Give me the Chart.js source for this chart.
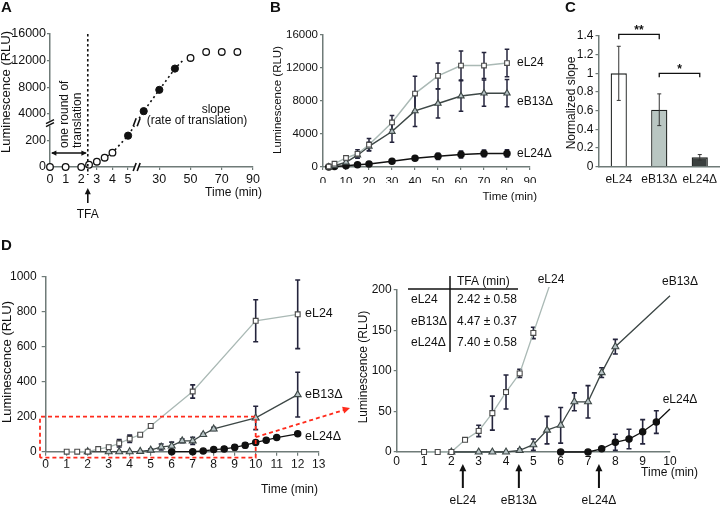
<!DOCTYPE html>
<html>
<head>
<meta charset="utf-8">
<script src="https://cdn.jsdelivr.net/npm/chart.js@4.4.1/dist/chart.umd.min.js"></script>
<style>
  html, body { margin: 0; padding: 0; background: #fff; }
  #figure { position: relative; width: 720px; height: 508px; overflow: hidden; background: #fff; }
  #figure canvas { position: absolute; }
</style>
</head>
<body>
<div id="figure">
  <canvas id="panel-a" width="268" height="225" style="left:0;top:0"></canvas>
  <canvas id="panel-b" width="302" height="215" style="left:268px;top:0"></canvas>
  <canvas id="panel-c" width="190" height="200" style="left:530px;top:0"></canvas>
  <canvas id="panel-d1" width="362" height="275" style="left:0;top:230px"></canvas>
  <canvas id="panel-d2" width="365" height="268" style="left:355px;top:240px"></canvas>
</div>
<script>
// ---- dati ----
// A: schema con assi spezzati (tempo in min, luminescenza in RLU)
const aOpenTime = [0, 1, 2, 2.5, 3, 3.5, 4, 50, 60, 70, 80];
const aOpenLum = [0, 0, 0, 17, 40, 70, 108, 12400, 13300, 13300, 13300];
const aFilledTime = [5, 20, 30, 40];
const aFilledLum = [880, 4400, 7600, 10800];
const aTrendTime = [2.5, 3, 3.5, 4, 5, 20, 30, 40, 45];
const aTrendLum = [17, 40, 70, 108, 880, 4400, 7600, 10800, 12000];
const aXTicks = [0, 1, 2, 3, 4, 5, 30, 50, 70, 90];
const aYTicks = [0, 200, 4000, 8000, 12000, 16000];

// B: cinetica completa
const bTime = [2.5, 5, 10, 15, 20, 30, 40, 50, 60, 70, 80];
const bL24 = [50, 400, 1100, 1600, 2700, 5400, 8900, 11050, 12300, 12300, 12600];
const bL24Err = [100, 150, 250, 500, 750, 850, 2100, 1550, 1750, 1570, 1670];
const bB13 = [0, 150, 570, 1450, 2500, 4300, 6800, 7700, 8600, 8950, 8950];
const bB13Err = [50, 100, 200, 400, 500, 1300, 1900, 1750, 1850, 1600, 1650];
const bL24d = [0, 50, 150, 280, 360, 690, 1070, 1300, 1520, 1650, 1650];
const bL24dErr = [20, 30, 50, 80, 100, 150, 200, 380, 430, 420, 450];

// C: pendenza normalizzata
const cLabels = ['eL24', 'eB13Δ', 'eL24Δ'];
const cSlope = [1.0, 0.61, 0.1];
const cErr = [0.29, 0.17, 0.03];

// D: primi minuti (stessi dati nei due grafici)
const dL24Time = [1, 1.5, 2, 2.5, 3, 3.5, 4, 4.5, 5, 7, 10, 12];
const dL24Lum = [0, 0, 0, 15, 26, 48, 74, 97, 147, 344, 748, 785];
const dL24Err = [0, 0, 0, 0, 7, 21, 21, 5, 7, 38, 120, 196];
const dB13Time = [2, 3, 3.5, 4, 4.5, 5, 5.5, 6, 6.5, 7, 7.5, 8, 10, 12];
const dB13Lum = [0, 0, 0, 0, 2, 9, 27, 33, 62, 62, 98, 130, 193, 326];
const dB13Err = [0, 0, 0, 0, 2, 7, 17, 22, 11, 20, 6, 9, 67, 128];
const dL24dTime = [6, 7, 7.5, 8, 8.5, 9, 9.5, 10, 10.5, 11, 12];
const dL24dLum = [0, 0, 4, 12, 16, 25, 37, 53, 66, 81, 102];
const dL24dErr = [0, 0, 2, 10, 12, 15, 14, 0, 0, 0, 0];
const dSeries = ['eL24', 'eB13Δ', 'eL24Δ'];
const dTfa = [2.42, 4.47, 7.40];
const dTfaErr = [0.58, 0.37, 0.58];

// ---- stile ----
const FONT = '"Liberation Sans", Arial, Helvetica, sans-serif';
const axisColor = '#6f7b78';
const errColor = '#24243c';
const col = {
  l24Line: '#aab9b5', squareEdge: '#4a4a4a',
  b13Line: '#3d4746', b13Fill: '#b7c3c5',
  l24dLine: '#111111',
  bars: ['#ffffff', '#b9c6c2', '#3b403f'], barEdge: '#1c1f1e',
  red: '#ff2b1c'
};

Chart.defaults.font.family = FONT;
Chart.defaults.font.size = 12;
Chart.defaults.color = '#111';
Chart.defaults.animation = false;

// assi spezzati del pannello A
function aTimeToAxis(t) { return t <= 5 ? t : 5 + (t - 10) / 10; }
function aLumToAxis(v) {
  if (v <= 200) return v / 200;
  if (v <= 4000) return 1 + (v - 200) / 3800;
  return 1 + v / 4000;
}

const pts = (xs, ys, fx = v => v, fy = v => v) => xs.map((x, i) => ({ x: fx(x), y: fy(ys[i]) }));

// dimensione fissa degli assi, cosi' l'area del grafico cade dove serve
function fixSize(size) {
  return function (scale) {
    if (scale.isHorizontal()) scale.height = size; else scale.width = size;
    scale.paddingLeft = scale.paddingRight = scale.paddingTop = scale.paddingBottom = 0;
  };
}

// etichette numeriche senza separatore delle migliaia
const plainNumber = v => String(Math.round(v * 100) / 100);

function axis(o) {
  const type = o.type || 'linear';
  const ticks = Object.assign({ padding: o.pad, font: { size: o.font }, maxRotation: 0, autoSkip: false },
    type === 'linear' ? { callback: plainNumber } : {}, o.ticks || {});
  return {
    type,
    min: o.min, max: o.max,
    afterBuildTicks: o.afterBuildTicks,
    ticks,
    grid: { display: true, drawOnChartArea: false, drawTicks: o.tl > 0, tickLength: o.tl, color: axisColor, lineWidth: 1.2 },
    border: { display: true, color: axisColor, width: 1.5 },
    afterFit: fixSize(o.size)
  };
}

// ---- disegno di supporto ----
function drawText(chart, str, x, y, o = {}) {
  const ctx = chart.ctx;
  ctx.save();
  ctx.font = (o.bold ? 'bold ' : '') + (o.size || 12) + 'px ' + FONT;
  ctx.fillStyle = o.color || '#111';
  ctx.textAlign = o.align || 'center';
  ctx.textBaseline = 'middle';
  ctx.translate(x - chart.canvas.offsetLeft, y - chart.canvas.offsetTop);
  if (o.rot) ctx.rotate(o.rot);
  ctx.fillText(str, 0, 0);
  ctx.restore();
}

function stroke(ctx, points, o = {}) {
  ctx.save();
  ctx.strokeStyle = o.color || '#111';
  ctx.lineWidth = o.width || 1.5;
  ctx.setLineDash(o.dash || []);
  ctx.beginPath();
  points.forEach(([x, y], i) => (i ? ctx.lineTo(x, y) : ctx.moveTo(x, y)));
  ctx.stroke();
  ctx.restore();
}

function arrowHead(ctx, x1, y1, x2, y2, size, color) {
  const a = Math.atan2(y2 - y1, x2 - x1);
  ctx.save();
  ctx.fillStyle = color || '#111';
  ctx.beginPath();
  ctx.moveTo(x2, y2);
  ctx.lineTo(x2 - size * Math.cos(a - 0.45), y2 - size * Math.sin(a - 0.45));
  ctx.lineTo(x2 - size * Math.cos(a + 0.45), y2 - size * Math.sin(a + 0.45));
  ctx.closePath();
  ctx.fill();
  ctx.restore();
}

function breakMark(ctx, x, y, vertical) {
  ctx.save();
  ctx.fillStyle = '#fff';
  if (vertical) ctx.fillRect(x - 4, y - 2.5, 8, 5); else ctx.fillRect(x - 2.5, y - 4, 5, 8);
  ctx.strokeStyle = '#111';
  ctx.lineWidth = 1.6;
  ctx.beginPath();
  if (vertical) {
    ctx.moveTo(x - 4, y + 0.5); ctx.lineTo(x + 4, y - 3.5);
    ctx.moveTo(x - 4, y + 3.5); ctx.lineTo(x + 4, y - 0.5);
  } else {
    ctx.moveTo(x - 3.5, y + 4); ctx.lineTo(x - 0.5, y - 4);
    ctx.moveTo(x + 0.5, y + 4); ctx.lineTo(x + 3.5, y - 4);
  }
  ctx.stroke();
  ctx.restore();
}

function drawErrors(chart, opts) {
  const ctx = chart.ctx;
  ctx.save();
  ctx.strokeStyle = opts.color || errColor;
  ctx.lineWidth = opts.width || 1.5;
  chart.data.datasets.forEach((ds, i) => {
    if (!ds.errors) return;
    const meta = chart.getDatasetMeta(i);
    const ys = chart.scales[meta.yAxisID];
    meta.data.forEach((el, j) => {
      const err = ds.errors[j];
      const raw = ds.data[j];
      const xv = typeof raw === 'object' ? raw.x : j;
      const yv = typeof raw === 'object' ? raw.y : raw;
      if (!err) return;
      if (opts.maxX !== undefined && xv >= opts.maxX) return;
      if (yv > ys.max) return;
      const t = ys.getPixelForValue(yv + err);
      const b = ys.getPixelForValue(yv - err);
      const c = opts.cap || 2.5;
      ctx.beginPath();
      ctx.moveTo(el.x, t); ctx.lineTo(el.x, b);
      ctx.moveTo(el.x - c, t); ctx.lineTo(el.x + c, t);
      ctx.moveTo(el.x - c, b); ctx.lineTo(el.x + c, b);
      ctx.stroke();
    });
  });
  ctx.restore();
}

const errorBars = {
  id: 'errorBars',
  beforeDatasetsDraw(chart, args, opts) { if (opts.behind) drawErrors(chart, opts); },
  afterDatasetsDraw(chart, args, opts) { if (!opts.behind) drawErrors(chart, opts); }
};

const baseOptions = {
  responsive: false,
  maintainAspectRatio: false,
  animation: false,
  events: []
};

function plugins(extra) {
  return Object.assign({ legend: { display: false }, tooltip: { enabled: false } }, extra || {});
}

// ---- A ----
const panelA = {
  id: 'panelA',
  afterDraw(chart) {
    const { ctx, chartArea, scales: { x, y } } = chart;
    const ox = chart.canvas.offsetLeft, oy = chart.canvas.offsetTop;
    const xt = x.getPixelForValue(aTimeToAxis(dTfa[0]));
    stroke(ctx, [[xt, chartArea.top], [xt, chartArea.bottom + 8]], { dash: [2.5, 2.5], width: 1.6 });

    const ya = y.getPixelForValue(aLumToAxis(105));
    stroke(ctx, [[x.left + 2, ya], [xt - 2, ya]], { width: 1.6 });
    arrowHead(ctx, xt, ya, x.left + 1, ya, 6);
    arrowHead(ctx, x.left, ya, xt - 1, ya, 6);

    drawText(chart, 'one round of', 65, 148, { align: 'left', rot: -Math.PI / 2 });
    drawText(chart, 'translation', 78, 148, { align: 'left', rot: -Math.PI / 2 });
    drawText(chart, 'slope', 216, 110);
    drawText(chart, '(rate of translation)', 197, 121);

    stroke(ctx, [[xt, 203 - oy], [xt, 192 - oy]], { width: 1.6 });
    arrowHead(ctx, xt, 203 - oy, xt, 188 - oy, 7);
    drawText(chart, 'TFA', xt + ox, 215);
    drawText(chart, 'Time (min)', 262, 193, { align: 'right' });
    drawText(chart, 'Luminescence (RLU)', 6, 92, { size: 13, rot: -Math.PI / 2 });
    drawText(chart, 'A', 1, 8, { bold: true, size: 15, align: 'left' });

    // segni di interruzione
    const xb = x.getPixelForValue(5.55);
    breakMark(ctx, x.left, y.getPixelForValue(1.65), true);
    breakMark(ctx, xb, y.bottom, false);
    const trend = chart.getDatasetMeta(2).data;
    const p0 = trend[4], p1 = trend[5];
    const f = (xb - p0.x) / (p1.x - p0.x);
    breakMark(ctx, xb, p0.y + f * (p1.y - p0.y), false);
  }
};

new Chart(document.getElementById('panel-a'), {
  type: 'scatter',
  data: {
    datasets: [
      { data: pts(aOpenTime, aOpenLum, aTimeToAxis, aLumToAxis), pointRadius: 3.3,
        pointBackgroundColor: '#fff', pointBorderColor: '#111', pointBorderWidth: 1.3, order: 1, clip: false },
      { data: pts(aFilledTime, aFilledLum, aTimeToAxis, aLumToAxis), pointRadius: 3.6,
        pointBackgroundColor: '#111', pointBorderColor: '#111', order: 0, clip: false },
      { data: pts(aTrendTime, aTrendLum, aTimeToAxis, aLumToAxis), showLine: true, pointRadius: 0,
        borderColor: '#111', borderWidth: 1.6, borderDash: [2, 3], order: 2, clip: false }
    ]
  },
  options: Object.assign({}, baseOptions, {
    layout: { padding: { left: 0, top: 34, right: 15, bottom: 42 } },
    plugins: plugins(),
    scales: {
      x: axis({ min: 0, max: 13, tl: 3, pad: 2, font: 12.5, size: 16,
        afterBuildTicks: s => { s.ticks = aXTicks.map(t => ({ value: aTimeToAxis(t) })); },
        ticks: { callback: (v, i) => String(aXTicks[i]) } }),
      y: axis({ min: 0, max: 5, tl: 3, pad: 1, font: 12.5, size: 50,
        afterBuildTicks: s => { s.ticks = aYTicks.map(v => ({ value: aLumToAxis(v) })); },
        ticks: { callback: (v, i) => String(aYTicks[i]) } })
    }
  }),
  plugins: [panelA]
});

// ---- serie comuni B / D ----
function seriesSets(t, l24, l24e, b13, b13e, l24d, l24de, size, cut) {
  const rad = r => (cut ? c => (c.raw && c.raw.x >= cut ? 0 : r) : r);
  const clip = cut ? { left: 8, top: 3, right: 3, bottom: 8 } : false;
  return [
    { label: 'eL24', data: pts(t[0], l24), errors: l24e, showLine: true, borderColor: col.l24Line,
      borderWidth: size.lw, pointStyle: 'rect', pointRadius: rad(size.sq),
      pointBackgroundColor: '#fff', pointBorderColor: col.squareEdge, pointBorderWidth: 1.1, order: 0, clip },
    { label: 'eB13Δ', data: pts(t[1], b13), errors: b13e, showLine: true, borderColor: col.b13Line,
      borderWidth: size.lw, pointStyle: 'triangle', pointRadius: rad(size.tri),
      pointBackgroundColor: col.b13Fill, pointBorderColor: col.b13Line, pointBorderWidth: 1.1, order: 1, clip },
    { label: 'eL24Δ', data: pts(t[2], l24d), errors: l24de, showLine: true, borderColor: col.l24dLine,
      borderWidth: size.lw, pointStyle: 'circle', pointRadius: rad(size.dot),
      pointBackgroundColor: '#111', pointBorderColor: '#111', order: 2, clip }
  ];
}

// ---- B ----
const panelB = {
  id: 'panelB',
  afterDraw(chart) {
    drawText(chart, 'B', 270, 8, { bold: true, size: 15, align: 'left' });
    drawText(chart, 'Luminescence (RLU)', 278, 100, { size: 11.5, rot: -Math.PI / 2 });
    drawText(chart, 'Time (min)', 537, 197, { size: 11.5, align: 'right' });
    drawText(chart, 'eL24', 517, 63, { align: 'left' });
    drawText(chart, 'eB13Δ', 517, 102, { align: 'left' });
    drawText(chart, 'eL24Δ', 517, 154, { align: 'left' });
  }
};

new Chart(document.getElementById('panel-b'), {
  type: 'scatter',
  data: {
    datasets: seriesSets([bTime, bTime, bTime], bL24, bL24Err, bB13, bB13Err, bL24d, bL24dErr,
      { lw: 1.5, sq: 3.3, tri: 3.6, dot: 3.0 })
  },
  options: Object.assign({}, baseOptions, {
    layout: { padding: { left: 0, top: 35, right: 40, bottom: 32 } },
    plugins: plugins({ errorBars: { behind: true, color: errColor, width: 1.5, cap: 2.3 } }),
    scales: {
      x: axis({ min: 0, max: 90, tl: 3, pad: 5, font: 11.5, size: 16, ticks: { stepSize: 10 } }),
      y: axis({ min: 0, max: 16000, tl: 3, pad: 2, font: 11.5, size: 55, ticks: { stepSize: 4000 } })
    }
  }),
  plugins: [errorBars, panelB]
});

// ---- C ----
const panelC = {
  id: 'panelC',
  afterDraw(chart) {
    const { ctx, scales: { x, y } } = chart;
    const x0 = x.getPixelForValue(0), x1 = x.getPixelForValue(1), x2 = x.getPixelForValue(2);
    const t1 = y.getPixelForValue(1.418), l1 = y.getPixelForValue(1.364);
    const t2 = y.getPixelForValue(1.0), l2 = y.getPixelForValue(0.957);
    stroke(ctx, [[x0, l1], [x0, t1], [x1, t1], [x1, l1]], { width: 1.3 });
    stroke(ctx, [[x1, l2], [x1, t2], [x2, t2], [x2, l2]], { width: 1.3 });
    const ox = chart.canvas.offsetLeft, oy = chart.canvas.offsetTop;
    drawText(chart, '**', (x0 + x1) / 2 + ox, t1 - 4 + oy, { bold: true, size: 12 });
    drawText(chart, '*', (x1 + x2) / 2 + ox, t2 - 4 + oy, { bold: true, size: 12 });
    drawText(chart, 'C', 565, 8, { bold: true, size: 15, align: 'left' });
    drawText(chart, 'Normalized slope', 572, 103, { size: 12, rot: -Math.PI / 2 });
  }
};

new Chart(document.getElementById('panel-c'), {
  type: 'bar',
  data: {
    labels: cLabels,
    datasets: [{ data: cSlope, errors: cErr, backgroundColor: col.bars, borderColor: col.barEdge,
      borderWidth: 1.3, barPercentage: 0.4, categoryPercentage: 1 }]
  },
  options: Object.assign({}, baseOptions, {
    layout: { padding: { left: 0, top: 36, right: 0, bottom: 17.3 } },
    plugins: plugins({ errorBars: { behind: false, color: '#333', width: 1, cap: 2 } }),
    scales: {
      x: axis({ type: 'category', tl: 0, pad: 6, font: 12, size: 16 }),
      y: axis({ min: 0, max: 1.4, tl: 3, pad: 2, font: 12, size: 68.5, ticks: { stepSize: 0.2 } })
    }
  }),
  plugins: [errorBars, panelC]
});

// ---- D sinistra ----
const panelD1 = {
  id: 'panelD1',
  afterDraw(chart) {
    const { ctx, scales: { x, y } } = chart;
    const ox = chart.canvas.offsetLeft, oy = chart.canvas.offsetTop;
    const rx = x.getPixelForValue(10), ry = y.getPixelForValue(200);
    const lx = 40 - ox, by = y.getPixelForValue(0) + 6;
    stroke(ctx, [[lx, by], [lx, ry], [rx, ry], [rx, by], [lx, by]], { color: col.red, width: 1.8, dash: [4, 3] });
    const my = (ry + by) / 2, ex = 350 - ox, ey = 408 - oy;
    stroke(ctx, [[rx, my], [ex - 6, ey + 2]], { color: col.red, width: 1.8, dash: [4, 3] });
    arrowHead(ctx, rx, my, ex, ey, 8, col.red);

    drawText(chart, 'D', 1, 246, { bold: true, size: 15, align: 'left' });
    drawText(chart, 'Luminescence (RLU)', 7, 362, { size: 13, rot: -Math.PI / 2 });
    drawText(chart, 'Time (min)', 318, 490, { align: 'right' });
    drawText(chart, dSeries[0], 305, 314, { align: 'left', size: 12.5 });
    drawText(chart, dSeries[1], 305, 395, { align: 'left', size: 12.5 });
    drawText(chart, dSeries[2], 305, 437, { align: 'left', size: 12.5 });
  }
};

new Chart(document.getElementById('panel-d1'), {
  type: 'scatter',
  data: {
    datasets: seriesSets([dL24Time, dB13Time, dL24dTime], dL24Lum, dL24Err, dB13Lum, dB13Err, dL24dLum, dL24dErr,
      { lw: 1.3, sq: 3.4, tri: 4.0, dot: 3.1 })
  },
  options: Object.assign({}, baseOptions, {
    layout: { padding: { left: 0, top: 46.7, right: 43.3, bottom: 37.3 } },
    plugins: plugins({ errorBars: { behind: true, color: errColor, width: 1.6, cap: 2.5 } }),
    scales: {
      x: axis({ min: 0, max: 13, tl: 4, pad: 2, font: 12, size: 16, ticks: { stepSize: 1 } }),
      y: axis({ min: 0, max: 1000, tl: 4, pad: 5, font: 12, size: 45.7, ticks: { stepSize: 200 } })
    }
  }),
  plugins: [errorBars, panelD1]
});

// ---- D destra ----
const panelD2 = {
  id: 'panelD2',
  afterDraw(chart) {
    const { ctx, scales: { x } } = chart;
    const ox = chart.canvas.offsetLeft, oy = chart.canvas.offsetTop;
    drawText(chart, 'Luminescence (RLU)', 364, 367, { size: 12, rot: -Math.PI / 2 });
    drawText(chart, 'Time (min)', 698, 473, { align: 'right' });
    drawText(chart, dSeries[0], 551, 280);
    drawText(chart, dSeries[1], 680, 282);
    drawText(chart, dSeries[2], 680, 400);

    // tabella TFA
    stroke(ctx, [[450 - ox, 276 - oy], [450 - ox, 352 - oy]], { width: 1.5 });
    stroke(ctx, [[408 - ox, 289 - oy], [518 - ox, 289 - oy]], { width: 1.5 });
    drawText(chart, 'TFA (min)', 457, 282, { align: 'left' });
    const rows = [300, 322, 343];
    dSeries.forEach((s, i) => {
      drawText(chart, s, 411, rows[i], { align: 'left' });
      drawText(chart, dTfa[i].toFixed(2) + ' ± ' + dTfaErr[i].toFixed(2), 457, rows[i], { align: 'left' });
    });

    // frecce TFA sotto l'asse
    dTfa.forEach((t, i) => {
      const px = x.getPixelForValue(t);
      stroke(ctx, [[px, 488 - oy], [px, 470 - oy]], { width: 2 });
      arrowHead(ctx, px, 488 - oy, px, 464 - oy, 8);
      drawText(chart, dSeries[i], px + ox, 501);
    });
  }
};

new Chart(document.getElementById('panel-d2'), {
  type: 'scatter',
  data: {
    datasets: seriesSets([dL24Time, dB13Time, dL24dTime], dL24Lum, dL24Err, dB13Lum, dB13Err, dL24dLum, dL24dErr,
      { lw: 1.3, sq: 3.5, tri: 4.0, dot: 3.1 }, 10)
  },
  options: Object.assign({}, baseOptions, {
    layout: { padding: { left: 0, top: 50, right: 50, bottom: 40 } },
    plugins: plugins({ errorBars: { behind: true, color: errColor, width: 1.6, cap: 2.5, maxX: 10 } }),
    scales: {
      x: axis({ min: 0, max: 10, tl: 0, pad: 2.5, font: 12, size: 16, ticks: { stepSize: 1 } }),
      y: axis({ min: 0, max: 200, tl: 3, pad: 2, font: 12, size: 41.7, ticks: { stepSize: 50 } })
    }
  }),
  plugins: [errorBars, panelD2]
});
</script>
</body>
</html>
